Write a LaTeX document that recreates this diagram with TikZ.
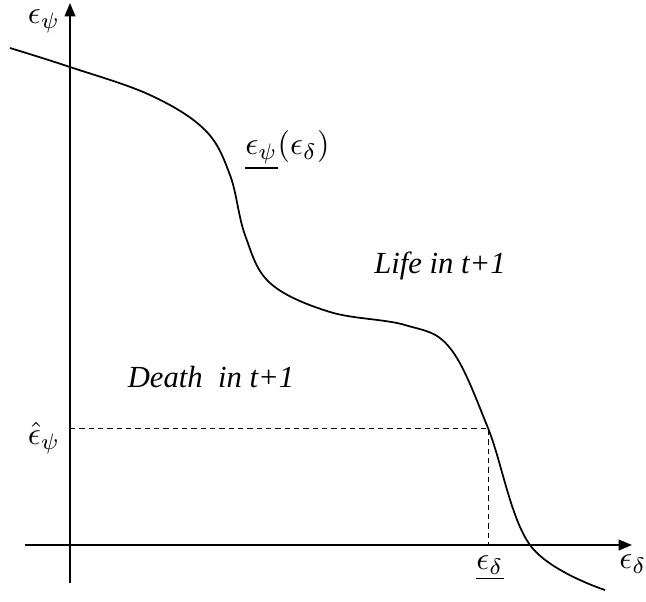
\documentclass[tikz,border=0pt]{standalone}
\usepackage{graphicx}
\usepackage{fontspec}
\setmainfont{Liberation Serif}
\usetikzlibrary{arrows.meta}
\newcommand{\bigmath}[1]{\scalebox{2.4}{$#1$}}
\tikzset{
  axis/.style={line width=1.4pt,-{Triangle[length=10pt,width=8pt]}},
  curve/.style={line width=1.3pt},
  guide/.style={line width=0.7pt,dash pattern=on 4pt off 3pt},
  lbl/.style={inner sep=0pt},
  region/.style={font=\itshape\fontsize{23}{27}\selectfont,inner sep=0pt}
}
\begin{document}
\begin{tikzpicture}[x=0.75pt,y=-0.75pt]
\useasboundingbox (0,0) rectangle (646,601);
% axes
\coordinate (yb) at (70,583);
\coordinate (yt) at (70,3);
\coordinate (xl) at (25,545);
\coordinate (xr) at (632,545);
\draw[axis] (yb) -- (yt);
\draw[axis] (xl) -- (xr);
% curve
\draw[curve] plot[smooth,tension=0.6] coordinates {(10,48) (70,67) (150,95) (205,130) (230,175) (245,235) (270,283) (330,312) (405,325) (450,348) (488,428) (530,545) (605,590)};
% dashed guides
\coordinate (p) at (488,428);
\coordinate (py) at (70,428);
\coordinate (px) at (488,545);
\draw[guide] (py) -- (p) -- (px);
% labels
\node[lbl] (ly) at (44,21) {\bigmath{\epsilon_\psi}};
\node[lbl] (lyh) at (44,438) {\bigmath{\hat\epsilon_\psi}};
\node[lbl] (lxd) at (490,568) {\bigmath{\underline{\epsilon_\delta}}};
\node[lbl] (lx) at (633,564) {\bigmath{\epsilon_\delta}};
\node[lbl,anchor=west] (lf) at (245,150) {\bigmath{\underline{\epsilon_\psi}(\epsilon_\delta)}};
\node[region] (life) at (440,266) {Life in t+1};
\node[region] (death) at (211,377) {Death\ \ in t+1};
\end{tikzpicture}
\end{document}
